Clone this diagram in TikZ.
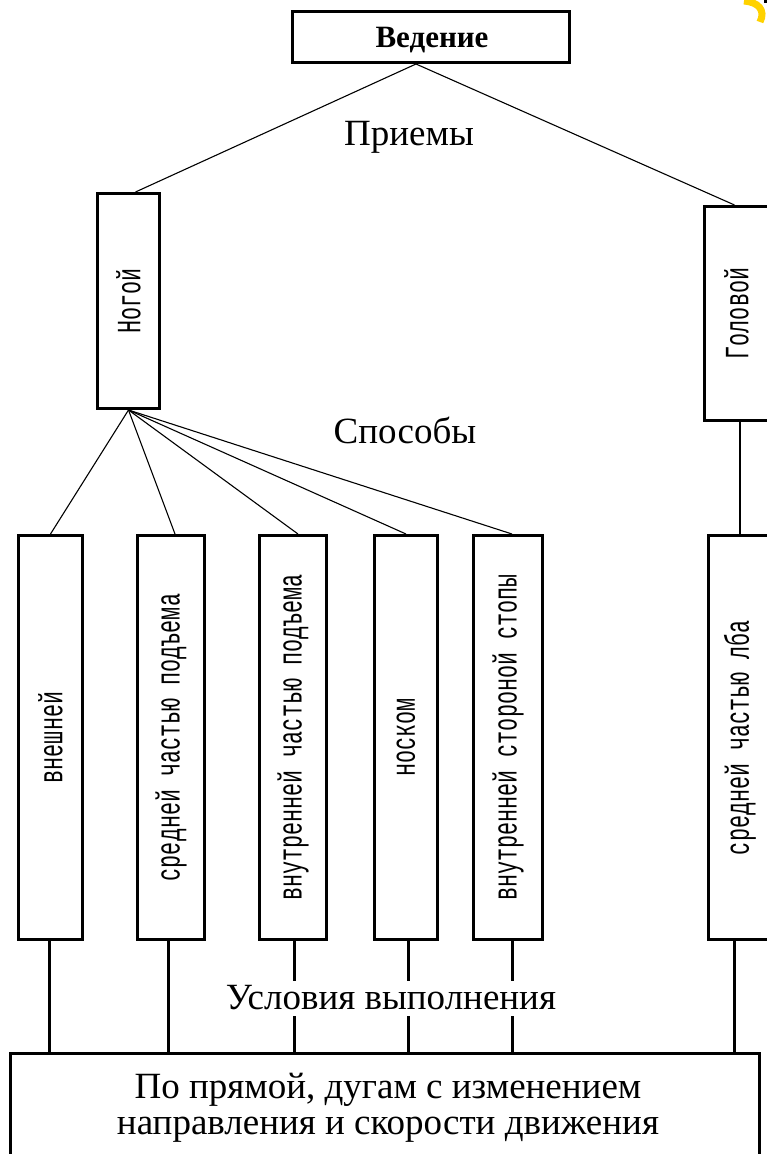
\documentclass[tikz,border=0pt]{standalone}
\usepackage{fontspec}
\setmainfont{Liberation Serif}
\newfontfamily\vmono[FakeStretch=0.64]{Liberation Mono}
\usetikzlibrary{calc}
\definecolor{ylw}{HTML}{FFD200}
\begin{document}
\begin{tikzpicture}[x=1pt,y=-1pt,
  box/.style={draw, line width=3pt, inner sep=0pt, align=center},
  thinline/.style={line width=1.1pt},
  conn/.style={line width=3pt},
  lab/.style={font=\fontsize{37}{36}\selectfont, inner sep=0pt},
  vt/.style={rotate=90, inner sep=0pt, font=\vmono\fontsize{34}{34}\selectfont}
]
\useasboundingbox (0,0) rectangle (767,1154);
\clip (0,0) rectangle (767,1154);
\fill[white] (0,0) rectangle (767,1154);

% top box
\node[box, minimum width=277, minimum height=51] (ved) at (431,37) {};
\node[inner sep=0pt, font=\bfseries\fontsize{31}{31}\selectfont] (vedt) at (432,40) {Ведение};
\node[lab] (priem) at (409,137) {Приемы};

% level 2
\node[box, minimum width=62, minimum height=215] (nog) at (128.5,301) {};
\node[vt] (nogt) at (nog.center) {Ногой};
\node[box, minimum width=64, minimum height=214] (gol) at (736.5,313.5) {};
\node[vt] (golt) at (gol.center) {Головой};

\node[lab] (spos) at (405,430) {Способы};

% level 3
\node[box, minimum width=64, minimum height=404] (b1) at (50.5,737.5) {};
\node[box, minimum width=67, minimum height=404] (b2) at (171,737.5) {};
\node[box, minimum width=67, minimum height=404] (b3) at (293,737.5) {};
\node[box, minimum width=63, minimum height=404] (b4) at (406,737.5) {};
\node[box, minimum width=69, minimum height=404] (b5) at (508,737.5) {};
\node[box, minimum width=63, minimum height=404] (b6) at (740,737.5) {};
\node[vt] (t1) at (b1.center) {внешней};
\node[vt] (t2) at (b2.center) {средней частью подъема};
\node[vt] (t3) at (b3.center) {внутренней частью подъема};
\node[vt] (t4) at (b4.center) {носком};
\node[vt] (t5) at (b5.center) {внутренней стороной стопы};
\node[vt] (t6) at (b6.center) {средней частью лба};

% bottom box
\node[box, minimum width=749, minimum height=130] (bot) at (384.5,1118.5) {};
\node[lab, align=center] (bott) at (388,1108) {По прямой, дугам с изменением\\направления и скорости движения};

% connectors top
\coordinate (apex) at ($(ved.south)+(-15,0)$);
\coordinate (nogtop) at ($(nog.north)+(7,0)$);
\coordinate (goltop) at ($(gol.north)+(-2,0)$);
\draw[thinline] (apex) -- (nogtop);
\draw[thinline] (apex) -- (goltop);
\coordinate (nfoot) at (nog.south);
\coordinate (h2) at ($(b2.north)+(4,0)$);
\coordinate (h3) at ($(b3.north)+(5,0)$);
\coordinate (h5) at ($(b5.north)+(4,0)$);
\draw[thinline] (nfoot) -- (b1.north);
\draw[thinline] (nfoot) -- (h2);
\draw[thinline] (nfoot) -- (h3);
\draw[thinline] (nfoot) -- (b4.north);
\draw[thinline] (nfoot) -- (h5);
\draw[thinline] (gol.south -| b6.north) -- (b6.north);

% connectors bottom
\coordinate (c1) at ($(b1.south)+(-1.5,0)$);
\coordinate (c2) at ($(b2.south)+(-3,-3)$);
\coordinate (c3) at ($(b3.south)+(1,0)$);
\coordinate (c4) at ($(b4.south)+(2,0)$);
\coordinate (c5) at ($(b5.south)+(4,0)$);
\coordinate (c6) at ($(b6.south)+(-6,0)$);
\foreach \c in {c1,c2,c3,c4,c5,c6}{
  \draw[conn] (\c) -- (\c |- bot.north);
}

\node[lab, fill=white, minimum height=35, inner xsep=2pt] (usl) at (391,998) {Условия выполнения};

% corner mark
\draw[ylw, line width=7pt] (744,1) .. controls (758,2) and (766,10) .. (760,22);
\fill[black] (764,0) rectangle (767,3);
\end{tikzpicture}
\end{document}
